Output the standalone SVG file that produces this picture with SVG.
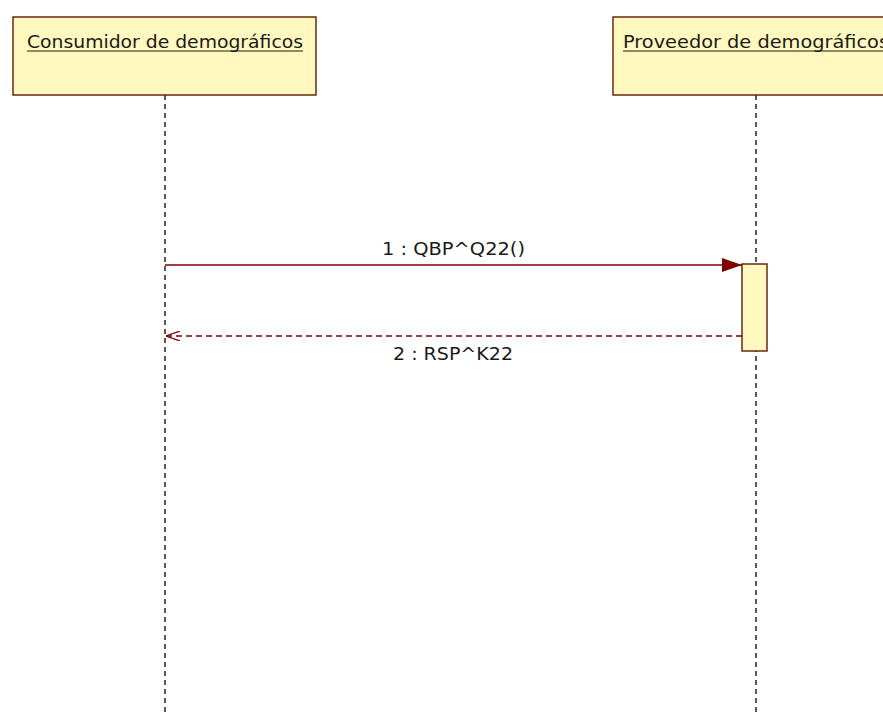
<svg xmlns="http://www.w3.org/2000/svg" width="883" height="715" viewBox="0 0 883 715">
<style>
.box{fill:#fff8bf;stroke:#6b2a10;stroke-width:1.5}
.lbl{font-family:"DejaVu Sans",Verdana,sans-serif;font-size:17px;fill:#1a1a1a}
.life{stroke:#222;stroke-width:1.5;stroke-dasharray:5,4;fill:none}
.msg{stroke:#800000;stroke-width:1.5;fill:none}
.ret{stroke:#800000;stroke-width:1.5;stroke-dasharray:6,4;fill:none}
</style>
<defs>
<marker id="filled" viewBox="0 0 20 14" refX="20" refY="7" markerWidth="20" markerHeight="14" markerUnits="userSpaceOnUse" orient="auto">
<path d="M0,0 L20,7 L0,14 Z" fill="#800000"/>
</marker>
<marker id="open" viewBox="0 0 14 10" refX="14" refY="5" markerWidth="14" markerHeight="10" markerUnits="userSpaceOnUse" orient="auto">
<path d="M0,0 L14,5 L0,10" fill="none" stroke="#800000" stroke-width="1.2"/>
</marker>
</defs>
<rect width="883" height="715" fill="#fff"/>
<g id="lifelines">
<line class="life" x1="165" y1="95" x2="165" y2="715"/>
<line class="life" x1="756" y1="95" x2="756" y2="715"/>
</g>
<g id="consumidor">
<rect class="box" x="13" y="17" width="303" height="78"/>
<text class="lbl" x="27" y="48" textLength="276" lengthAdjust="spacingAndGlyphs">Consumidor de demográficos</text>
<line x1="27" y1="51" x2="303" y2="51" stroke="#1a1a1a" stroke-width="1.2"/>
</g>
<g id="proveedor">
<rect class="box" x="613" y="17" width="290" height="78"/>
<text class="lbl" x="623" y="48" textLength="266" lengthAdjust="spacingAndGlyphs">Proveedor de demográficos</text>
<line x1="623" y1="51" x2="889" y2="51" stroke="#1a1a1a" stroke-width="1.2"/>
</g>
<g id="activation">
<rect class="box" x="742" y="264" width="25" height="87"/>
</g>
<g id="connectors">
<line class="msg" x1="165" y1="265" x2="742" y2="265" marker-end="url(#filled)"/>
<text class="lbl" x="382" y="255" textLength="143" lengthAdjust="spacingAndGlyphs">1 : QBP^Q22()</text>
<line class="ret" x1="742" y1="336" x2="166" y2="336" marker-end="url(#open)"/>
<text class="lbl" x="393" y="360" textLength="120" lengthAdjust="spacingAndGlyphs">2 : RSP^K22</text>
</g>
</svg>
